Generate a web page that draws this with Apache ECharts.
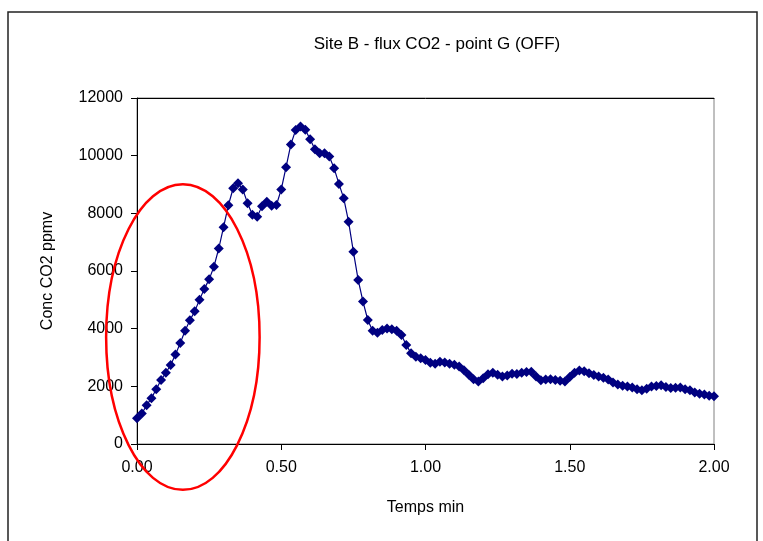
<!DOCTYPE html>
<html>
<head>
<meta charset="utf-8">
<script src="https://cdn.jsdelivr.net/npm/echarts@6/dist/echarts.min.js"></script>
<style>
html,body{margin:0;padding:0;background:#fff;}
#chart{width:763px;height:541px;}
</style>
</head>
<body>
<div id="chart"></div>
<script>
// Time in minutes (one reading per second)
var timeMin = [];
for (var i = 0; i <= 120; i++) { timeMin.push(i / 60); }

// CO2 concentration (ppmv)
var concCO2 = [
  890, 1060, 1340, 1590, 1900, 2220, 2470, 2740, 3100, 3500,
  3930, 4290, 4600, 5000, 5380, 5710, 6150, 6780, 7520, 8280,
  8870, 9040, 8830, 8350, 7950, 7880, 8250, 8400, 8260, 8290,
  8830, 9600, 10390, 10890, 11010, 10900, 10570, 10220, 10080, 10080,
  9970, 9560, 9020, 8520, 7710, 6670, 5690, 4940, 4300, 3930,
  3860, 3950, 4010, 3980, 3930, 3780, 3430, 3150, 3030, 2970,
  2910, 2820, 2780, 2850, 2830, 2780, 2750, 2690, 2560, 2400,
  2250, 2170, 2280, 2420, 2470, 2400, 2340, 2380, 2440, 2430,
  2470, 2500, 2510, 2340, 2210, 2240, 2250, 2220, 2190, 2170,
  2320, 2470, 2550, 2520, 2450, 2390, 2340, 2300, 2240, 2130,
  2060, 2020, 1990, 1960, 1900, 1860, 1920, 1990, 2010, 2040,
  1980, 1940, 1950, 1960, 1900, 1860, 1790, 1740, 1720, 1670,
  1660
];

var xTickLabels = ['0.00', '0.50', '1.00', '1.50', '2.00'];
var titleText = 'Site B - flux CO2 - point G (OFF)';
var xName = 'Temps min';
var yName = 'Conc CO2 ppmv';

// Annotation ellipse (in data units)
var ellipseCenter = [0.159, 3710];
var ellipseRadius = [0.266, 5300];

var seriesData = timeMin.map(function (t, i) { return [t, concCO2[i]]; });

var chart = echarts.init(document.getElementById('chart'));
var font = 'Liberation Sans, Arial, sans-serif';
chart.setOption({
  animation: false,
  backgroundColor: '#fff',
  title: {
    text: titleText,
    left: 432, top: 31, textAlign: 'center',
    textStyle: { fontFamily: font, fontSize: 17, fontWeight: 'normal', color: '#000' }
  },
  grid: { left: 137, right: 49, top: 98, bottom: 97, show: true, borderColor: '#808080', borderWidth: 1 },
  xAxis: [{
    type: 'value', min: 0, max: 2, interval: 0.5,
    name: xName, nameLocation: 'middle', nameGap: 56,
    nameTextStyle: { fontFamily: font, fontSize: 16, color: '#000' },
    axisLine: { show: true, onZero: false, lineStyle: { color: '#000', width: 1 } },
    axisTick: { show: true, inside: false, length: 6, lineStyle: { color: '#000' } },
    axisLabel: { fontFamily: font, fontSize: 16, color: '#000', margin: 16,
      formatter: function (v) { return xTickLabels[Math.round(v / 0.5)]; } },
    splitLine: { show: false }
  }, {
    type: 'value', min: 0, max: 2, position: 'top',
    axisLine: { show: true, onZero: false, lineStyle: { color: '#000', width: 1 } },
    axisTick: { show: false }, axisLabel: { show: false }, splitLine: { show: false }
  }],
  yAxis: {
    type: 'value', min: 0, max: 12000, interval: 2000,
    name: yName, nameLocation: 'middle', nameGap: 81, nameRotate: 90,
    nameTextStyle: { fontFamily: font, fontSize: 16, color: '#000' },
    axisLine: { show: true, onZero: false, lineStyle: { color: '#000', width: 1 } },
    axisTick: { show: true, inside: false, length: 6, lineStyle: { color: '#000' } },
    axisLabel: { fontFamily: font, fontSize: 16, color: '#000', margin: 14,
      formatter: function (v) { return String(v); } },
    splitLine: { show: false }
  },
  series: [{
    type: 'line',
    data: seriesData,
    xAxisIndex: 0,
    symbol: 'diamond', symbolSize: 10,
    showAllSymbol: true,
    itemStyle: { color: '#000080' },
    lineStyle: { color: '#000080', width: 1.2 }
  }]
});

var c = chart.convertToPixel({ xAxisIndex: 0, yAxisIndex: 0 }, ellipseCenter);
var e = chart.convertToPixel({ xAxisIndex: 0, yAxisIndex: 0 },
  [ellipseCenter[0] + ellipseRadius[0], ellipseCenter[1] + ellipseRadius[1]]);
chart.setOption({
  graphic: [{
    type: 'rect', silent: true,
    shape: { x: 8, y: 12, width: 749, height: 545 },
    style: { fill: 'none', stroke: '#222', lineWidth: 1.5 }
  }, {
    type: 'ellipse', silent: true, z: 100,
    shape: { cx: c[0], cy: c[1], rx: Math.abs(e[0] - c[0]), ry: Math.abs(c[1] - e[1]) },
    style: { fill: 'none', stroke: '#ff0000', lineWidth: 2.5 }
  }]
});
</script>
</body>
</html>
